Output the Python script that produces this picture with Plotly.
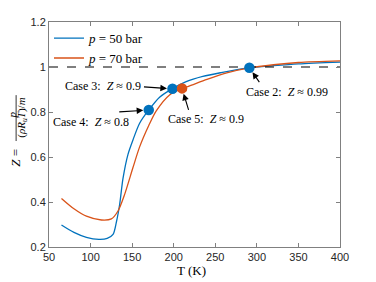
import plotly.graph_objects as go

# Data
T_50 = [65, 80, 95, 110, 120, 127, 131, 135, 139, 145, 151, 159, 170, 183, 198, 215, 235, 257, 291, 320, 350, 400]
Z_50 = [0.298, 0.265, 0.243, 0.234, 0.238, 0.256, 0.31, 0.39, 0.505, 0.612, 0.676, 0.75, 0.809, 0.866, 0.903, 0.935, 0.958, 0.975, 0.997, 1.006, 1.014, 1.022]

T_70 = [65, 80, 95, 113, 125, 133, 141, 151, 159, 170, 179, 195, 210, 217, 240, 265, 291, 320, 350, 400]
Z_70 = [0.416, 0.37, 0.337, 0.32, 0.325, 0.36, 0.434, 0.553, 0.645, 0.74, 0.805, 0.876, 0.905, 0.913, 0.945, 0.975, 0.996, 1.01, 1.02, 1.027]

case_T_50 = [170, 198.5, 291]
case_Z_50 = [0.809, 0.903, 0.997]
case_T_70 = [210]
case_Z_70 = [0.905]

case_labels = ["Case 4:  <i>Z</i> ≈ 0.8", "Case 3:  <i>Z</i> ≈ 0.9", "Case 2:  <i>Z</i> ≈ 0.99", "Case 5:  <i>Z</i> ≈ 0.9"]

x_ticks = [50, 100, 150, 200, 250, 300, 350, 400]
y_ticks = [0.2, 0.4, 0.6, 0.8, 1.0, 1.2]
y_tick_text = ["0.2", "0.4", "0.6", "0.8", "1", "1.2"]

BLUE = "#0072BD"
ORANGE = "#D95319"
SERIF = "Liberation Serif, DejaVu Serif, serif"
SANS = "Liberation Sans, Arial, sans-serif"

fig = go.Figure()
fig.add_trace(go.Scatter(x=T_50, y=Z_50, mode="lines", line=dict(color=BLUE, width=1.3, shape="spline", smoothing=0.8),
                         name="<i>p</i> = 50 bar"))
fig.add_trace(go.Scatter(x=T_70, y=Z_70, mode="lines", line=dict(color=ORANGE, width=1.3, shape="spline", smoothing=0.8),
                         name="<i>p</i> = 70 bar"))
fig.add_trace(go.Scatter(x=[50, 400], y=[1, 1], mode="lines", line=dict(color="black", width=1.2, dash="dash"),
                         showlegend=False, hoverinfo="skip"))
fig.add_trace(go.Scatter(x=case_T_50, y=case_Z_50, mode="markers", marker=dict(color=BLUE, size=10.5), showlegend=False))
fig.add_trace(go.Scatter(x=case_T_70, y=case_Z_70, mode="markers", marker=dict(color=ORANGE, size=10.5), showlegend=False))

# (x, y, label, arrow tail dx, dy, text dx, dy) in pixels
ann_specs = [
    (case_T_50[0], case_Z_50[0], case_labels[0], -31, 2, -58, 12),
    (case_T_50[1], case_Z_50[1], case_labels[1], -30, -2, -69, -3),
    (case_T_50[2], case_Z_50[2], case_labels[2], 11, 16, 38, 24),
    (case_T_70[0], case_Z_70[0], case_labels[3], 7, 23, 24, 31),
]
annotations = []
for x, y, txt, ax, ay, tx, ty in ann_specs:
    annotations.append(dict(x=x, y=y, xref="x", yref="y", ax=ax, ay=ay, axref="pixel", ayref="pixel",
                            text="", showarrow=True, arrowhead=2, arrowsize=1.2, arrowwidth=1.1, arrowcolor="black",
                            standoff=5.5))
    annotations.append(dict(x=x, y=y, xref="x", yref="y", xshift=tx, yshift=-ty, text=txt, showarrow=False,
                            font=dict(family=SERIF, size=12, color="black")))

# Y-axis label built as a rotated fraction; x-axis label
annotations += [
    dict(x=-0.127, y=0.585, xref="paper", yref="paper", xanchor="center", yanchor="middle",
         text="<i>p</i>", textangle=-90, showarrow=False,
         font=dict(family=SERIF, size=11, color="black")),
    dict(x=-0.094, y=0.573, xref="paper", yref="paper", xanchor="center", yanchor="middle",
         text="(<i>ρR<sub>u</sub>T</i>)/<i>m</i>", textangle=-90,
         showarrow=False, font=dict(family=SERIF, size=11, color="black")),
    dict(x=-0.114, y=0.396, xref="paper", yref="paper", xanchor="center", yanchor="middle",
         text="<i>Z</i> =", textangle=-90, showarrow=False,
         font=dict(family=SERIF, size=13, color="black")),
    dict(x=0.488, y=0, xref="paper", yref="paper", yshift=-23, yanchor="middle", text="T (K)", showarrow=False,
         font=dict(family=SERIF, size=13, color="black")),
]

shapes = [dict(type="line", xref="paper", yref="paper", x0=-0.113, x1=-0.113,
               y0=0.471, y1=0.675, line=dict(color="black", width=0.8))]

axis_common = dict(showline=True, linecolor="#808080", linewidth=1, mirror="ticks", ticks="inside", ticklen=4,
                   tickcolor="#808080", showgrid=False, zeroline=False, automargin=False,
                   tickfont=dict(family=SANS, size=11, color="#262626"))

# The page body has an 8px margin, so the figure is sized to fit the 376x282 window.
fig.update_layout(
    width=368, height=274,
    margin=dict(l=41, r=36, t=14, b=35),
    paper_bgcolor="white", plot_bgcolor="white",
    xaxis=dict(range=[50, 400], tickvals=x_ticks, **axis_common),
    yaxis=dict(range=[0.2, 1.2], tickvals=y_ticks, ticktext=y_tick_text, **axis_common),
    legend=dict(x=0.0, y=0.995, xanchor="left", yanchor="top", bgcolor="rgba(255,255,255,0)",
                font=dict(family=SERIF, size=13, color="black"), itemwidth=30, tracegroupgap=0),
    annotations=annotations, shapes=shapes,
)

fig.write_html("out.html")
